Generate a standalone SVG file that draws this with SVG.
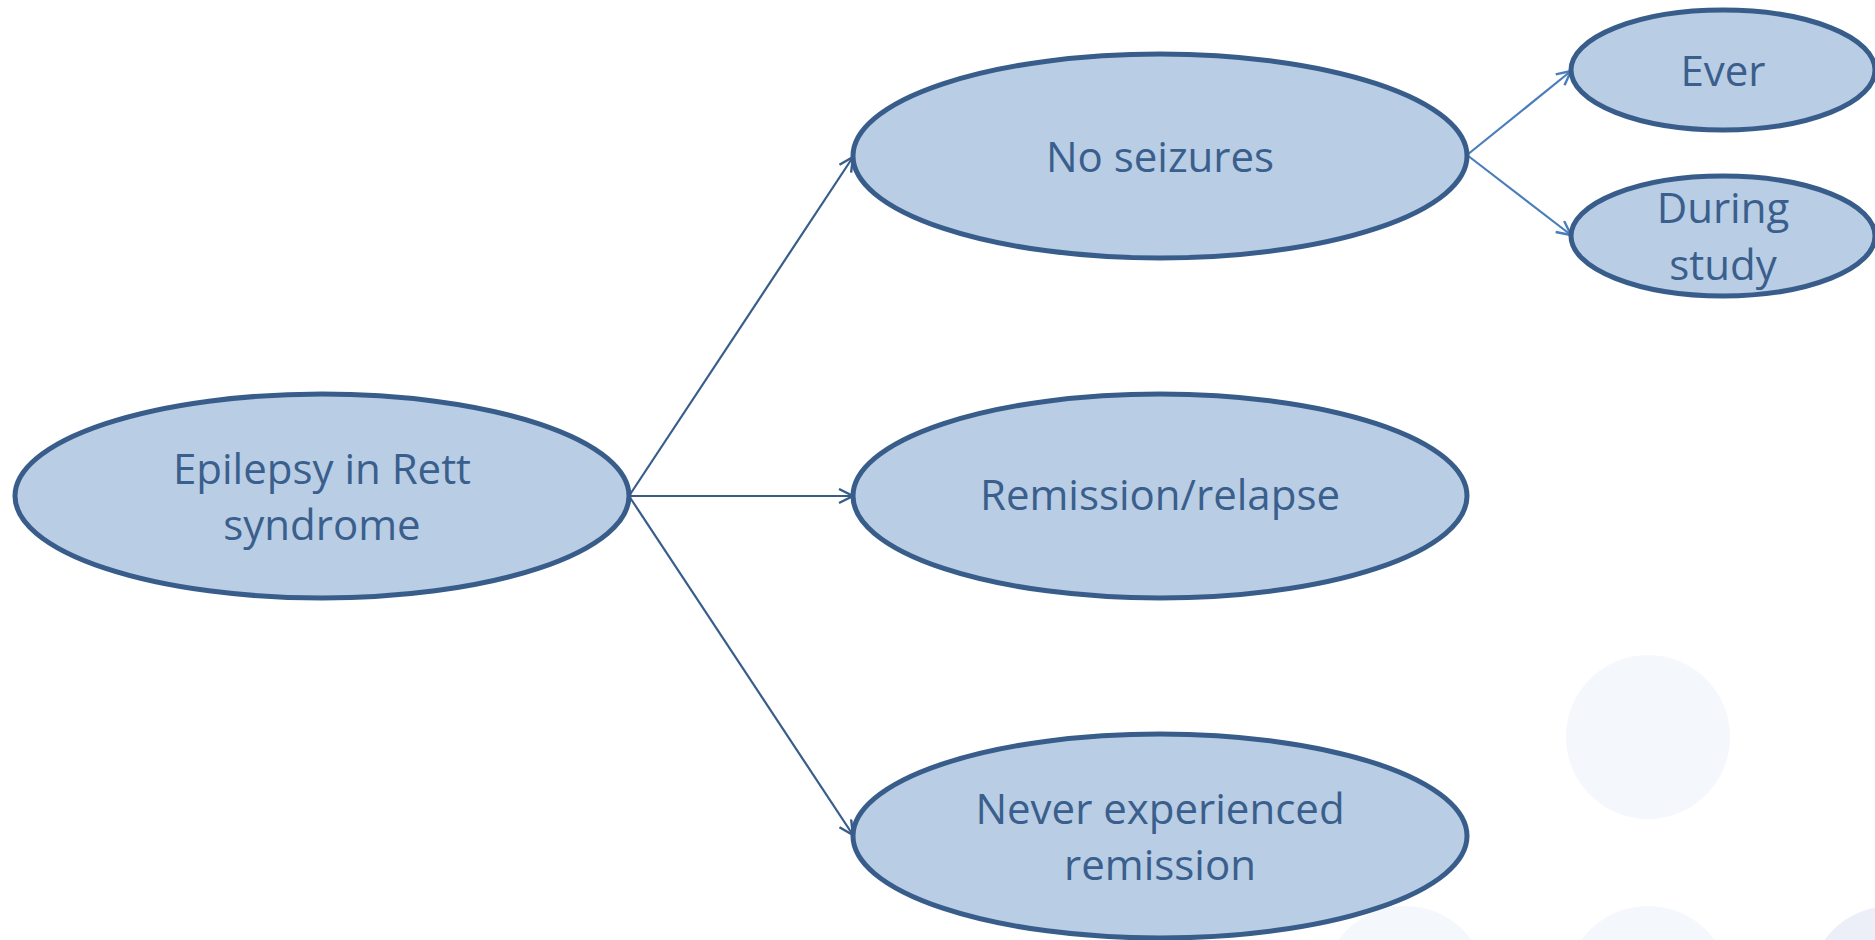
<svg xmlns="http://www.w3.org/2000/svg" width="1875" height="940" viewBox="0 0 1875 940">
<defs>
<style>
.node{fill:#B9CDE5;stroke:#385D8A;stroke-width:5}
.lbl{font-family:"Open Sans","Noto Sans","Liberation Sans",sans-serif;font-size:42px;fill:#3A5F8C;text-anchor:middle}
.bg1{fill:#F4F7FC}
.bg2{fill:#ECEFF8}
.conn{stroke:#385D8A;stroke-width:2.2;fill:none}
.conn2{stroke:#4A7EBB;stroke-width:2.2;fill:none}
</style>
<marker id="arr" markerWidth="20" markerHeight="20" refX="16" refY="8" orient="auto" markerUnits="userSpaceOnUse">
<path d="M2,1 L16,8 L2,15" fill="none" stroke="#385D8A" stroke-width="2.4"/>
</marker>
<marker id="arr2" markerWidth="20" markerHeight="20" refX="16" refY="8" orient="auto" markerUnits="userSpaceOnUse">
<path d="M2,1 L16,8 L2,15" fill="none" stroke="#4A7EBB" stroke-width="2.4"/>
</marker>
</defs>
<rect width="1875" height="940" fill="#FFFFFF"/>
<g id="background">
<circle class="bg1" cx="1648" cy="737" r="82"/>
<circle class="bg1" cx="1405" cy="988" r="82"/>
<circle class="bg1" cx="1648" cy="988" r="82"/>
<circle class="bg2" cx="1891" cy="988" r="82"/>
</g>
<g id="connectors">
<line class="conn" x1="629" y1="496" x2="853" y2="157" marker-end="url(#arr)"/>
<line class="conn" x1="629" y1="496" x2="853" y2="496" marker-end="url(#arr)"/>
<line class="conn" x1="629" y1="496" x2="853" y2="835" marker-end="url(#arr)"/>
<line class="conn2" x1="1467" y1="155" x2="1571" y2="71" marker-end="url(#arr2)"/>
<line class="conn2" x1="1467" y1="155" x2="1571" y2="235" marker-end="url(#arr2)"/>
</g>
<g id="epilepsy">
<ellipse class="node" cx="322" cy="496" rx="307" ry="102"/>
<text class="lbl" x="322" y="484">Epilepsy in Rett</text>
<text class="lbl" x="322" y="540">syndrome</text>
</g>
<g id="no-seizures">
<ellipse class="node" cx="1160" cy="156" rx="307" ry="102"/>
<text class="lbl" x="1160" y="172">No seizures</text>
</g>
<g id="remission-relapse">
<ellipse class="node" cx="1160" cy="496" rx="307" ry="102"/>
<text class="lbl" x="1160" y="510">Remission/relapse</text>
</g>
<g id="never-remission">
<ellipse class="node" cx="1160" cy="836" rx="307" ry="102"/>
<text class="lbl" x="1160" y="824">Never experienced</text>
<text class="lbl" x="1160" y="880">remission</text>
</g>
<g id="ever">
<ellipse class="node" cx="1723" cy="70" rx="152" ry="60"/>
<text class="lbl" x="1723" y="86">Ever</text>
</g>
<g id="during-study">
<ellipse class="node" cx="1723" cy="236" rx="152" ry="60"/>
<text class="lbl" x="1723" y="223">During</text>
<text class="lbl" x="1723" y="280">study</text>
</g>
</svg>
